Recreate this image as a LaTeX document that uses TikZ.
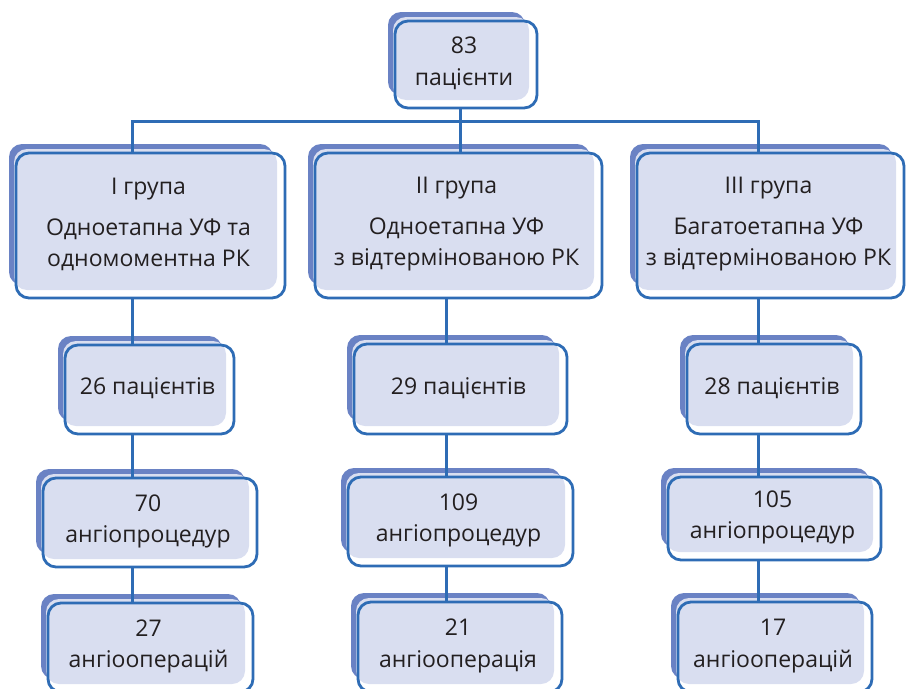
\documentclass[tikz,border=0pt]{standalone}
\usepackage{fontspec}
\setmainfont{Open Sans}
\definecolor{bdark}{RGB}{106,130,196}
\definecolor{blav}{RGB}{217,222,240}
\definecolor{bline}{RGB}{46,108,181}
\definecolor{txt}{RGB}{35,31,32}
\tikzset{
 outline/.style={draw=bline, line width=2.8pt, rounded corners=13pt, inner sep=0pt},
 lbl/.style={text=txt, align=center, font=\fontsize{23}{31.5}\selectfont, inner sep=0pt},
 conn/.style={draw=bline, line width=3pt},
}
\newcommand{\eb}[6]{%
 \fill[bdark, rounded corners=13pt] (#2-7,#3-9) rectangle (#4-12,#5-13);
 \fill[blav, rounded corners=13pt] (#2-2,#3-4) rectangle (#4-8,#5-8);
 \node[outline, minimum width=#4-#2, minimum height=#5-#3] (#1) at ({(#2+#4)/2},{(#3+#5)/2}) {};
 \node[lbl] (#1t) at ({(#2+#4)/2-2},{(#3+#5)/2-1}) {#6};
}
\begin{document}
\begin{tikzpicture}[x=1pt,y=-1pt]
\useasboundingbox (0,0) rectangle (907,688);
\eb{top}{395}{21}{537}{108}{83\\пацієнти}
\eb{g1}{16}{153}{285}{298}{I група\\[9pt]Одноетапна УФ та\\одномоментна РК}
\eb{g2}{315}{153}{602}{298}{II група\\[9pt]Одноетапна УФ\\з відтермінованою РК}
\eb{g3}{637}{153}{904}{298}{III група\\[9pt]Багатоетапна УФ\\з відтермінованою РК}
\eb{p1}{65}{345}{234}{434}{26 пацієнтів}
\eb{p2}{354}{344}{567}{434}{29 пацієнтів}
\eb{p3}{687}{344}{861}{434}{28 пацієнтів}
\eb{a1}{43}{478}{257}{567}{70\\ангіопроцедур}
\eb{a2}{348}{477}{573}{566}{109\\ангіопроцедур}
\eb{a3}{668}{477}{881}{560}{105\\ангіопроцедур}
\eb{o1}{48}{603}{253}{692}{27\\ангіооперацій}
\eb{o2}{358}{602}{562}{692}{21\\ангіооперація}
\eb{o3}{678}{602}{872}{692}{17\\ангіооперацій}
\coordinate (j0) at (460,121);
\coordinate (j1) at (132,121);
\coordinate (j3) at (758,121);
\coordinate (c2) at (446,121);
\draw[conn] (top.south -| j0) -- (j0);
\draw[conn] (g1.north -| j1) -- (j1) -- (j3) -- (g3.north -| j3);
\draw[conn] (j0) -- (g2.north -| j0);
\draw[conn] (g1.south -| j1) -- (p1.north -| j1);
\draw[conn] (p1.south -| j1) -- (a1.north -| j1);
\draw[conn] (a1.south -| j1) -- (o1.north -| j1);
\draw[conn] (g2.south -| c2) -- (p2.north -| c2);
\draw[conn] (p2.south -| c2) -- (a2.north -| c2);
\draw[conn] (a2.south -| c2) -- (o2.north -| c2);
\draw[conn] (g3.south -| j3) -- (p3.north -| j3);
\draw[conn] (p3.south -| j3) -- (a3.north -| j3);
\draw[conn] (a3.south -| j3) -- (o3.north -| j3);
\end{tikzpicture}
\end{document}
